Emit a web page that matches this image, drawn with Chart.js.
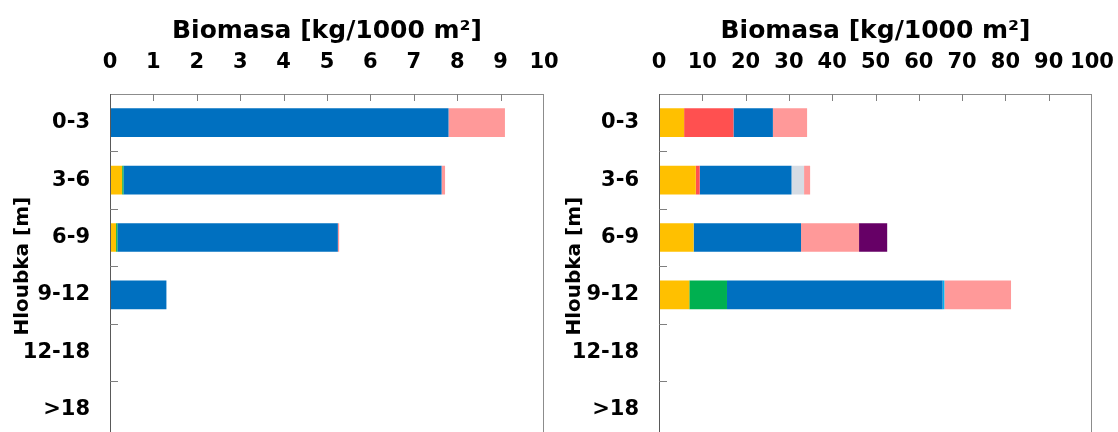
<!DOCTYPE html>
<html>
<head>
<meta charset="utf-8">
<script src="https://cdn.jsdelivr.net/npm/chart.js@4"></script>
<style>
  html, body { margin: 0; padding: 0; background: #fff; width: 1118px; height: 432px; overflow: hidden; }
  #left { position: absolute; left: 0; top: 0; }
  #right { position: absolute; left: 555px; top: 0; }
</style>
</head>
<body>
<canvas id="left" width="580" height="471"></canvas>
<canvas id="right" width="580" height="471"></canvas>
<script>
// depth categories
const depths = ["0-3", "3-6", "6-9", "9-12", "12-18", ">18"];
const leftTicks = [0, 1, 2, 3, 4, 5, 6, 7, 8, 9, 10];
const rightTicks = [0, 10, 20, 30, 40, 50, 60, 70, 80, 90, 100];

// left chart series (kg/1000 m2)
const leftYellow = [null, 0.28, 0.14, null, null, null];
const leftGreen = [null, 0.03, 0.03, null, null, null];
const leftBlue = [7.8, 7.33, 5.08, 1.3, null, null];
const leftPink = [1.3, 0.08, 0.03, null, null, null];

// right chart series (kg/1000 m2)
const rightYellow = [5.8, 8.5, 8.0, 7.0, null, null];
const rightGreen = [null, null, null, 8.7, null, null];
const rightRed = [11.4, 0.9, null, null, null, null];
const rightBlue = [9.1, 21.2, 24.8, 49.8, null, null];
const rightLightBlue = [null, null, null, 0.4, null, null];
const rightGray = [null, 2.9, null, null, null, null];
const rightPink = [7.9, 1.4, 13.4, 15.4, null, null];
const rightPurple = [null, null, 6.5, null, null, null];

const FONT = "'DejaVu Sans', Verdana, sans-serif";

// plot frame + inward tick marks
const frameTicks = {
  id: "frameTicks",
  afterDraw(chart) {
    const { ctx, chartArea: a } = chart;
    const xs = chart.scales.x, ys = chart.scales.y;
    ctx.save();
    ctx.lineWidth = 1;
    ctx.strokeStyle = "#8c8c8c";
    ctx.strokeRect(a.left + 0.5, a.top + 0.5, a.right - a.left - 1, a.bottom - a.top);
    ctx.strokeStyle = "#595959";
    ctx.beginPath();
    ctx.moveTo(a.left + 0.5, a.top);
    ctx.lineTo(a.left + 0.5, a.bottom);
    ctx.stroke();
    ctx.strokeStyle = "#7f7f7f";
    ctx.beginPath();
    xs.ticks.forEach((t, i) => {
      if (i === 0 || i === xs.ticks.length - 1) return;
      const px = Math.round(xs.getPixelForValue(t.value)) + 0.5;
      ctx.moveTo(px, a.top);
      ctx.lineTo(px, a.top + 7);
    });
    const half = (ys.getPixelForValue(1) - ys.getPixelForValue(0)) / 2;
    for (let i = 0; i < depths.length - 1; i++) {
      const py = Math.round(ys.getPixelForValue(i) + half) + 0.5;
      ctx.moveTo(a.left, py);
      ctx.lineTo(a.left + 8, py);
    }
    ctx.stroke();
    ctx.restore();
  }
};

function makeChart(id, datasets, tickVals, yTitlePad, yWidth, rightPad) {
  new Chart(document.getElementById(id).getContext("2d"), {
    type: "bar",
    data: {
      labels: depths,
      datasets: datasets.map(d => ({
        data: d[0],
        backgroundColor: d[1],
        borderWidth: 0,
        barPercentage: 0.5,
        categoryPercentage: 1.0
      }))
    },
    options: {
      indexAxis: "y",
      responsive: false,
      animation: false,
      devicePixelRatio: 1,
      layout: { padding: { left: 0, right: rightPad, top: 0, bottom: 4 } },
      plugins: { legend: { display: false }, tooltip: { enabled: false } },
      scales: {
        x: {
          position: "top",
          stacked: true,
          min: tickVals[0],
          max: tickVals[tickVals.length - 1],
          afterBuildTicks(s) { s.ticks = tickVals.map(v => ({ value: v })); },
          ticks: {
            padding: 19,
            maxRotation: 0,
            minRotation: 0,
            autoSkip: false,
            color: "#000",
            font: { family: FONT, size: 21, weight: "bold" }
          },
          grid: { display: false, drawTicks: false },
          border: { display: false },
          title: {
            display: true,
            text: "Biomasa [kg/1000 m²]",
            color: "#000",
            padding: { top: 16, bottom: 0 },
            font: { family: FONT, size: 25, weight: "bold" }
          },
          afterFit(s) { s.height = 94; }
        },
        y: {
          stacked: true,
          ticks: {
            padding: 20,
            color: "#000",
            font: { family: FONT, size: 21, weight: "bold" }
          },
          grid: { display: false, drawTicks: false },
          border: { display: false },
          title: {
            display: true,
            text: "Hloubka [m]",
            color: "#000",
            padding: { top: yTitlePad, bottom: 0 },
            font: { family: FONT, size: 20, weight: "bold" }
          },
          afterFit(s) { s.width = yWidth; }
        }
      }
    },
    plugins: [frameTicks]
  });
}

makeChart("left", [
  [leftYellow, "#FFC000"],
  [leftGreen, "#00B050"],
  [leftBlue, "#0070C0"],
  [leftPink, "#FF9999"]
], leftTicks, 11, 110, 36);

makeChart("right", [
  [rightYellow, "#FFC000"],
  [rightGreen, "#00B050"],
  [rightRed, "#FF5050"],
  [rightBlue, "#0070C0"],
  [rightLightBlue, "#00B0F0"],
  [rightGray, "#D6DCE4"],
  [rightPink, "#FF9999"],
  [rightPurple, "#660066"]
], rightTicks, 8, 104, 43);
</script>
</body>
</html>
